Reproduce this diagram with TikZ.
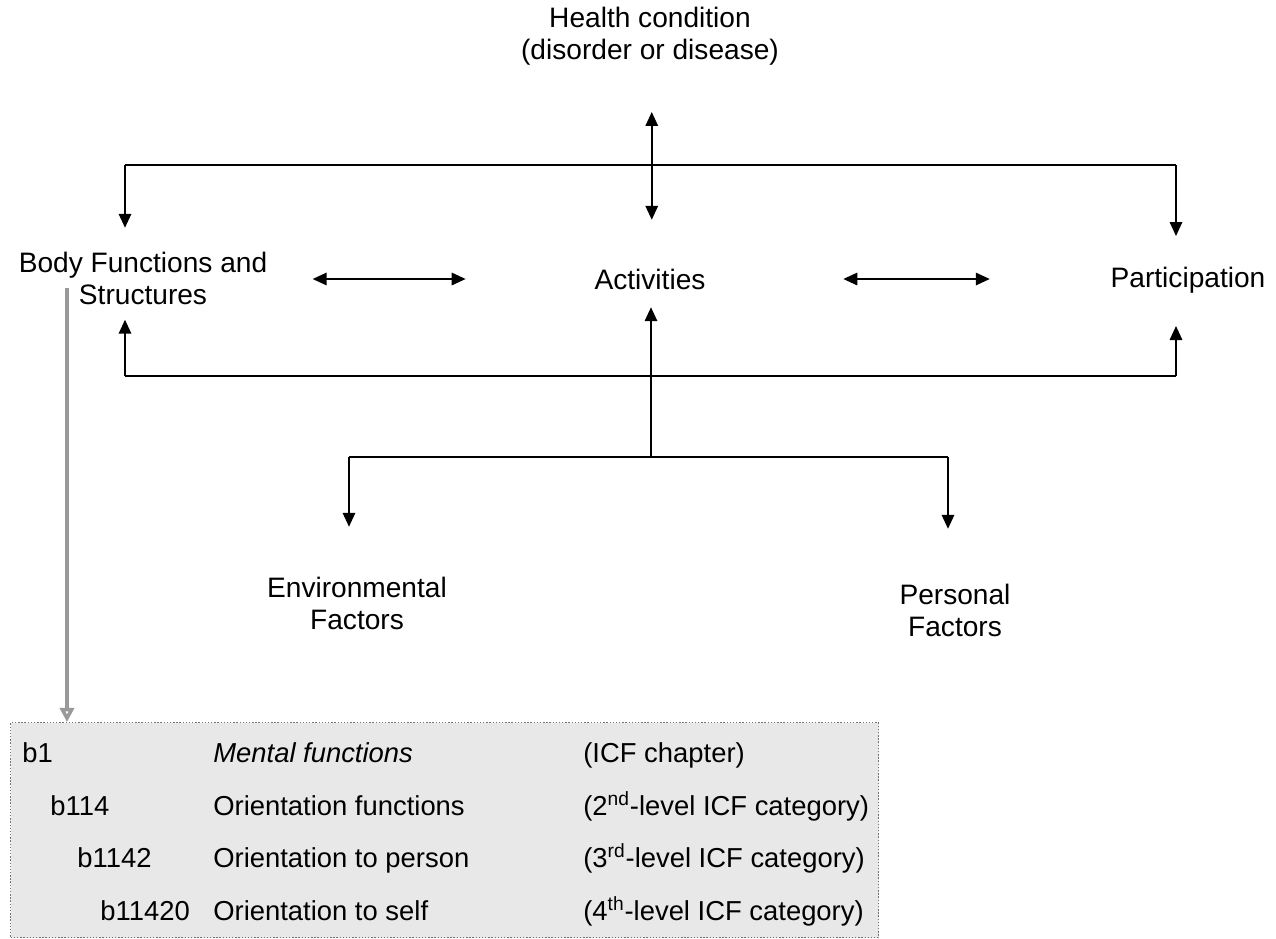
\documentclass[tikz,border=0pt]{standalone}
\usepackage{fontspec}
\setmainfont{Liberation Sans}
\usetikzlibrary{arrows.meta,positioning}

\tikzset{
    lbl/.style={font=\fontsize{16}{18.2}\selectfont,align=center,inner sep=0pt},
    cell/.style={font=\fontsize{15.6}{18}\selectfont,anchor=base west,inner sep=0pt},
    line/.style={line width=1.3pt},
    conn/.style={line width=1.3pt,-{Triangle[length=8pt,width=7pt]}},
    both/.style={line width=1.3pt,{Triangle[length=8pt,width=7pt]}-{Triangle[length=8pt,width=7pt]}},
    greyarr/.style={line width=2.4pt,black!40,-{Triangle[open,length=8pt,width=8pt]}},
    tablebox/.style={draw=black!55,densely dotted,line width=0.8pt,fill=black!9,
        anchor=north west,minimum width=17.36cm,minimum height=4.3cm,inner sep=0pt}
}

\begin{document}
\begin{tikzpicture}[x=0.02cm,y=-0.02cm]
    \useasboundingbox (0,0) rectangle (1276,938);

    \node[lbl](health) at (650,36){Health condition\\(disorder or disease)};
    \node[lbl](bfs) at (143,278){Body Functions and\\Structures};
    \node[lbl](act) at (650,279){Activities};
    \node[lbl](part) at (1188,280){Participation};
    \node[lbl](env) at (357,603){Environmental\\Factors};
    \node[lbl](pers) at (955,610){Personal\\Factors};

    \coordinate(tl) at (125,165);
    \coordinate(tr) at (1176,165);
    \coordinate(bl) at (125,376);
    \coordinate(br) at (1176,376);
    \coordinate(fl) at (349,457);
    \coordinate(fr) at (948,457);
    \coordinate(fm) at (651,457);

    \draw[both,shorten <=0.93cm,shorten >=0.97cm]([xshift=1]health.south)--([xshift=1]act.north);
    \draw[line](tl)--(tr);
    \draw[conn,shorten >=0.47cm](tl)--(tl|-bfs.north);
    \draw[conn,shorten >=0.61cm](tr)--(tr|-part.north);

    \draw[both,shorten <=0.9cm,shorten >=2.57cm](bfs.east|-act)--(act.west);
    \draw[both,shorten <=2.75cm,shorten >=2.41cm](act.east)--(act.east-|part.west);

    \draw[line](bl)--(br);
    \draw[conn,shorten >=0.3cm](bl)--(bl|-bfs.south);
    \draw[conn,shorten >=0.65cm](br)--(br|-part.south);
    \draw[conn,shorten >=0.35cm](fm)--(fm|-act.south);

    \draw[line](fl)--(fr);
    \draw[conn,shorten >=0.99cm](fl)--(fl|-env.north);
    \draw[conn,shorten >=1.09cm](fr)--(fr|-pers.north);

    \node[tablebox](tbl) at (10,722){};
    \coordinate(gstart) at (67,288);
    \draw[greyarr](gstart)--(gstart|-tbl.north);

    \node[cell] at (22,762){b1};
    \node[cell] at (213,762){\itshape Mental functions};
    \node[cell] at (583,762){(ICF chapter)};
    \node[cell] at (50,815){b114};
    \node[cell] at (213,815){Orientation functions};
    \node[cell] at (583,815){(2\textsuperscript{nd}-level ICF category)};
    \node[cell] at (77,867){b1142};
    \node[cell] at (213,867){Orientation to person};
    \node[cell] at (583,867){(3\textsuperscript{rd}-level ICF category)};
    \node[cell] at (100,920){b11420};
    \node[cell] at (213,920){Orientation to self};
    \node[cell] at (583,920){(4\textsuperscript{th}-level ICF category)};
\end{tikzpicture}
\end{document}
